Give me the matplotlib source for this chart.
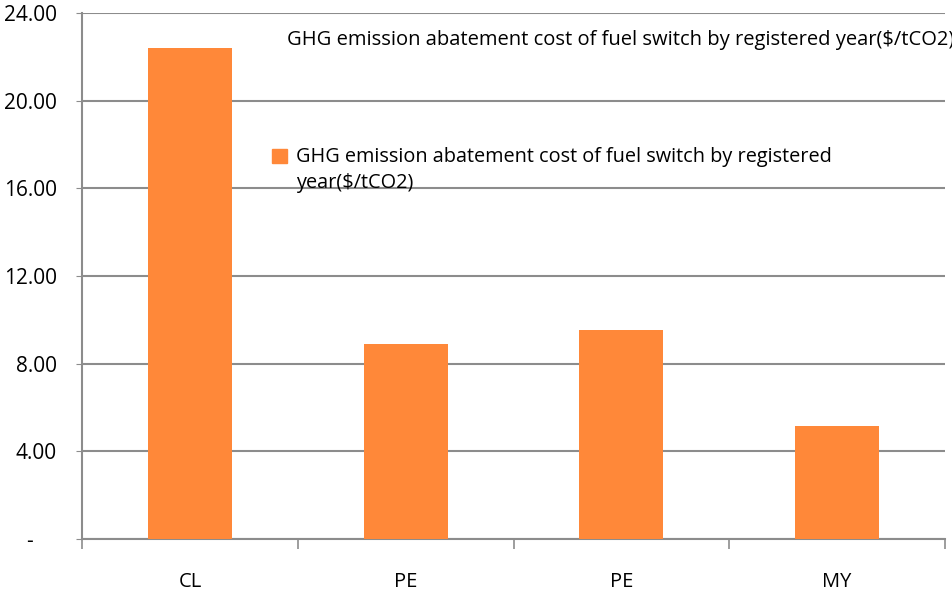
import matplotlib.pyplot as plt
from matplotlib.patches import Rectangle
from matplotlib.transforms import ScaledTranslation

# Chart data
categories = ['CL', 'PE', 'PE', 'MY']
costs = [22.4, 8.9, 9.55, 5.16]
y_ticks = [0, 4, 8, 12, 16, 20, 24]
y_labels = ['-', '4.00', '8.00', '12.00', '16.00', '20.00', '24.00']
series_name = 'GHG emission abatement cost of fuel switch by registered year($/tCO2)'
legend_label = 'GHG emission abatement cost of fuel switch by registered\nyear($/tCO2)'

BAR_COLOR = '#FF8839'
GRID_COLOR = '#8C8C8C'

plt.rcParams['font.family'] = ['Open Sans', 'DejaVu Sans']

fig = plt.figure(figsize=(9.52, 5.95), dpi=100)
ax = fig.add_axes([82 / 952, 56 / 595, 863 / 952, 526 / 595])

x = list(range(len(categories)))
ax.bar(x, costs, width=0.39, color=BAR_COLOR, zorder=3)

ax.set_xlim(-0.5, len(categories) - 0.5)
ax.set_ylim(0, 24)
ax.set_yticks(y_ticks)
ax.set_yticklabels(y_labels, fontsize=15)
ax.set_xticks(x)
ax.set_xticklabels(categories, fontsize=14.5)
ax.tick_params(axis='x', length=0, pad=24)
ax.tick_params(axis='y', length=4, color=GRID_COLOR, pad=14)

# the "-" zero label sits further left, as in the spreadsheet format
zero_lbl = ax.get_yticklabels()[0]
zero_lbl.set_transform(zero_lbl.get_transform()
                       + ScaledTranslation(-24 / 100, 0, fig.dpi_scale_trans))

# category boundary ticks below the axis
ax.set_xticks([i - 0.5 for i in range(len(categories) + 1)], minor=True)
ax.tick_params(axis='x', which='minor', length=7, color=GRID_COLOR, width=1.2)

ax.grid(axis='y', color=GRID_COLOR, linewidth=1.5, zorder=0)
for side in ('top', 'right'):
    ax.spines[side].set_visible(False)
for side in ('left', 'bottom'):
    ax.spines[side].set_color(GRID_COLOR)
    ax.spines[side].set_linewidth(1.5)

# title-like label, clipped at the right edge
fig.text(287 / 952, 1 - 40 / 595, series_name, fontsize=14.5, va='center', ha='left')

# legend
fig.patches.append(Rectangle((272 / 952, 1 - 163 / 595), 15 / 952, 14 / 595,
                             transform=fig.transFigure, color=BAR_COLOR))
fig.text(296 / 952, 1 - 170 / 595, legend_label,
         fontsize=14.3, va='center', ha='left', linespacing=1.43)

fig.savefig('out.png', dpi=100)
